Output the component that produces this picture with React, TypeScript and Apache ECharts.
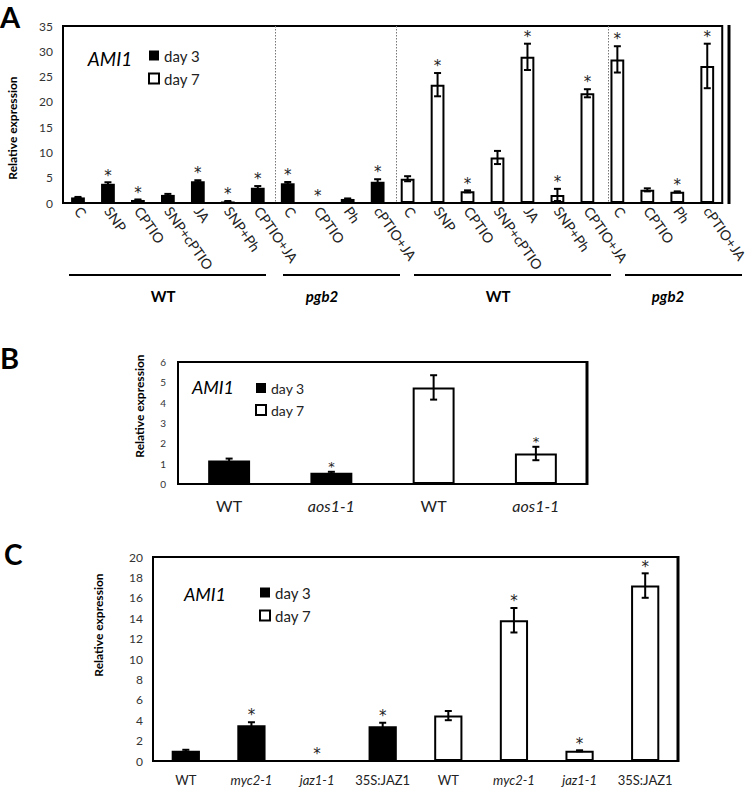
import React, { useEffect, useRef } from 'react';
import * as echarts from 'echarts';

const FONT = 'Lato, "Open Sans", sans-serif';

// ---------- Panel A ----------
const catsA = ['C', 'SNP', 'CPTIO', 'SNP+cPTIO', 'JA', 'SNP+Ph', 'CPTIO+JA', 'C', 'CPTIO', 'Ph', 'cPTIO+JA',
  'C', 'SNP', 'CPTIO', 'SNP+cPTIO', 'JA', 'SNP+Ph', 'CPTIO+JA', 'C', 'CPTIO', 'Ph', 'cPTIO+JA'];
const aDay3 = [1.1, 3.8, 0.6, 1.6, 4.3, 0.3, 3.0, 3.9, 0, 0.8, 4.2];
const aDay3Err = [0.1, 0.3, 0.1, 0.2, 0.2, 0.1, 0.35, 0.25, 0, 0.1, 0.5];
const aDay3Sig = [0, 1, 1, 0, 1, 1, 1, 1, 1, 0, 1];
const aDay7 = [4.8, 23.4, 2.3, 9.0, 28.9, 1.6, 21.7, 28.4, 2.6, 2.2, 27.1];
const aDay7Err = [0.5, 2.3, 0.2, 1.3, 2.6, 1.2, 0.8, 2.6, 0.3, 0.1, 4.4];
const aDay7Sig = [0, 1, 1, 0, 1, 1, 1, 1, 0, 1, 1];
const aGroups = ['WT', 'pgb2', 'WT', 'pgb2'];

// ---------- Panel B ----------
const catsB = ['WT', 'aos1-1', 'WT', 'aos1-1'];
const bDay3 = [1.15, 0.55];
const bDay3Err = [0.1, 0.05];
const bDay3Sig = [0, 1];
const bDay7 = [4.75, 1.5];
const bDay7Err = [0.6, 0.33];
const bDay7Sig = [0, 1];

// ---------- Panel C ----------
const catsC = ['WT', 'myc2-1', 'jaz1-1', '35S:JAZ1', 'WT', 'myc2-1', 'jaz1-1', '35S:JAZ1'];
const cDay3 = [1.0, 3.5, 0, 3.4];
const cDay3Err = [0.1, 0.3, 0, 0.35];
const cDay3Sig = [0, 1, 1, 1];
const cDay7 = [4.45, 13.8, 1.0, 17.2];
const cDay7Err = [0.45, 1.2, 0.05, 1.2];
const cDay7Sig = [0, 1, 1, 1];

const italicNames = ['aos1-1', 'myc2-1', 'jaz1-1', 'pgb2'];
const legendNames = ['day 3', 'day 7'];
const geneName = 'AMI1';
const yName = 'Relative expression';

// layout
const GA = { left: 63, top: 26, width: 666, height: 177 };
const GB = { left: 178, top: 362, width: 409, height: 122 };
const GC = { left: 153, top: 557, width: 525, height: 204 };

function panelSeries(idx: number, d3: number[], e3: number[], s3: number[], d7: number[], e7: number[], s7: number[],
  barWidth: string, starSize: number, capHalf: number) {
  const n3 = d3.length;
  const bar3 = [...d3, ...d7.map(() => null)];
  const bar7 = [...d3.map(() => null), ...d7];
  const errData: number[][] = [];
  d3.forEach((v, i) => { if (e3[i] > 0) errData.push([i, v - e3[i], v + e3[i]]); });
  d7.forEach((v, i) => { if (e7[i] > 0) errData.push([n3 + i, v - e7[i], v + e7[i]]); });
  const stars: number[][] = [];
  d3.forEach((v, i) => { if (s3[i]) stars.push([i, v + e3[i]]); });
  d7.forEach((v, i) => { if (s7[i]) stars.push([n3 + i, v + e7[i]]); });
  return [
    {
      type: 'bar', name: 'day 3', xAxisIndex: idx, yAxisIndex: idx, data: bar3, barWidth, barGap: '-100%',
      itemStyle: { color: '#000' }, z: 2,
    },
    {
      type: 'bar', name: 'day 7', xAxisIndex: idx, yAxisIndex: idx, data: bar7, barWidth, barGap: '-100%',
      itemStyle: { color: '#fff', borderColor: '#000', borderWidth: 2 }, z: 2,
    },
    {
      type: 'custom', xAxisIndex: idx, yAxisIndex: idx, data: errData, z: 5,
      encode: { x: 0, y: [1, 2] },
      renderItem: (params: any, api: any) => {
        const x = api.value(0);
        const hi = api.coord([x, api.value(2)]);
        const lo = api.coord([x, api.value(1)]);
        const st = { stroke: '#000', lineWidth: 2 };
        return {
          type: 'group',
          children: [
            { type: 'line', shape: { x1: hi[0], y1: hi[1], x2: lo[0], y2: lo[1] }, style: st },
            { type: 'line', shape: { x1: hi[0] - capHalf, y1: hi[1], x2: hi[0] + capHalf, y2: hi[1] }, style: st },
            { type: 'line', shape: { x1: lo[0] - capHalf, y1: lo[1], x2: lo[0] + capHalf, y2: lo[1] }, style: st },
          ],
        };
      },
    },
    {
      type: 'scatter', xAxisIndex: idx, yAxisIndex: idx, data: stars, symbol: 'circle', symbolSize: 0.5, z: 6,
      color: '#222',
      itemStyle: { color: '#222', opacity: 0 },
      label: {
        show: true, formatter: '*', position: 'top', distance: -1, fontSize: starSize, lineHeight: starSize,
        color: '#222', opacity: 1, fontFamily: '"DejaVu Sans", sans-serif',
      },
    },
  ];
}

const richItalic = (size: number) => ({
  i: { fontStyle: 'italic', fontSize: size, fontFamily: FONT, color: '#222' },
  n: { fontSize: size, fontFamily: FONT, color: '#222' },
});
const catFormatter = (v: string) => (italicNames.includes(v) ? `{i|${v}}` : `{n|${v}}`);

export default function App() {
  const ref = useRef<HTMLDivElement>(null);
  useEffect(() => {
    if (!ref.current) return;
    const chart = echarts.init(ref.current, null, { renderer: 'svg' });

    const colA = GA.width / catsA.length;
    const sepIdx = [7, 11, 18];
    const groupSpans = [[69, 266], [283, 400], [414, 611], [625, 742]];
    const groupCenters = [163, 322, 498, 668];

    const txt = (x: number, y: number, text: string, extra: any, rotation = 0) => ({
      type: 'text', x, y, rotation,
      style: { text, fontFamily: FONT, fill: '#000', align: 'center', verticalAlign: 'middle', ...extra },
    });

    const graphic: any[] = [
      // panel letters
      txt(0, 16, 'A', { fontSize: 29, fontWeight: 'bold', align: 'left' }),
      txt(0, 357, 'B', { fontSize: 29, fontWeight: 'bold', align: 'left' }),
      txt(4, 554, 'C', { fontSize: 28, fontWeight: 'bold', align: 'left' }),
      // gene names
      txt(110, 58, geneName, { fontSize: 19, fontStyle: 'italic' }),
      txt(213, 387, geneName, { fontSize: 18, fontStyle: 'italic' }),
      txt(205, 594, geneName, { fontSize: 18, fontStyle: 'italic' }),
      // y names
      txt(12, 128, yName, { fontSize: 12, fontWeight: 'bold' }, Math.PI / 2),
      txt(139, 406, yName, { fontSize: 12, fontWeight: 'bold' }, Math.PI / 2),
      txt(98, 625, yName, { fontSize: 12, fontWeight: 'bold' }, Math.PI / 2),
    ];
    // thicker right borders
    [GA, GB, GC].forEach((g) => {
      const x = g.left + g.width;
      graphic.push({ type: 'line', shape: { x1: x, y1: g.top - 1, x2: x, y2: g.top + g.height + 1 }, style: { stroke: '#000', lineWidth: 3 }, z: 10 });
    });
    sepIdx.forEach((k) => {
      const x = Math.round(GA.left + colA * k) + 0.5;
      graphic.push({ type: 'line', shape: { x1: x, y1: GA.top, x2: x, y2: GA.top + GA.height }, style: { stroke: '#777', lineWidth: 1, lineDash: [1.5, 1.5] }, z: 1 });
    });
    groupSpans.forEach((s) => {
      graphic.push({ type: 'line', shape: { x1: s[0], y1: 275, x2: s[1], y2: 275 }, style: { stroke: '#000', lineWidth: 2 } });
    });
    aGroups.forEach((g, i) => {
      graphic.push(txt(groupCenters[i], 296, g, { fontSize: 15, fontWeight: 'bold', fontStyle: italicNames.includes(g) ? 'italic' : 'normal' }));
    });

    const mkLegend = (left: number, top: number, size: number) => ({
      data: legendNames, left, top, orient: 'vertical', icon: 'rect', itemWidth: 10, itemHeight: 10, itemGap: 8,
      textStyle: { fontSize: size, fontFamily: FONT, color: '#222' }, selectedMode: false,
    });

    const yAxisBase = (gridIndex: number, max: number, interval: number, size: number, margin: number) => ({
      type: 'value', gridIndex, min: 0, max, interval,
      axisLine: { show: true, lineStyle: { color: '#000', width: 2 } },
      axisTick: { show: false }, splitLine: { show: false },
      axisLabel: { fontSize: size, color: '#333', fontFamily: FONT, margin },
    });

    const option: any = {
      animation: false,
      backgroundColor: '#fff',
      grid: [
        { ...GA, show: true, borderColor: '#000', borderWidth: 2 },
        { ...GB, show: true, borderColor: '#000', borderWidth: 2 },
        { ...GC, show: true, borderColor: '#000', borderWidth: 2 },
      ],
      legend: [mkLegend(143, 43, 15), mkLegend(250, 376, 14), mkLegend(254, 580, 15)],
      xAxis: [
        {
          type: 'category', gridIndex: 0, data: catsA,
          axisLine: { lineStyle: { color: '#000', width: 2 } }, axisTick: { show: false },
          axisLabel: { interval: 0, rotate: -55, fontSize: 14, color: '#222', fontFamily: FONT, margin: 5 },
        },
        {
          type: 'category', gridIndex: 1, data: catsB,
          axisLine: { lineStyle: { color: '#000', width: 2 } }, axisTick: { show: false },
          axisLabel: { interval: 0, margin: 13, formatter: catFormatter, rich: richItalic(16) },
        },
        {
          type: 'category', gridIndex: 2, data: catsC,
          axisLine: { lineStyle: { color: '#000', width: 2 } }, axisTick: { show: false },
          axisLabel: { interval: 0, margin: 12, formatter: catFormatter, rich: richItalic(13) },
        },
      ],
      yAxis: [
        yAxisBase(0, 35, 5, 12, 10),
        yAxisBase(1, 6, 1, 10, 12),
        yAxisBase(2, 20, 2, 12, 10),
      ],
      series: [
        ...panelSeries(0, aDay3, aDay3Err, aDay3Sig, aDay7, aDay7Err, aDay7Sig, '46%', 15, 3.5),
        ...panelSeries(1, bDay3, bDay3Err, bDay3Sig, bDay7, bDay7Err, bDay7Sig, '41%', 13, 3.5),
        ...panelSeries(2, cDay3, cDay3Err, cDay3Sig, cDay7, cDay7Err, cDay7Sig, '43%', 15, 3.5),
      ],
      graphic,
    };
    chart.setOption(option);
    return () => chart.dispose();
  }, []);
  return <div ref={ref} style={{ position: 'absolute', left: 0, top: 0, width: 750, height: 791 }} />;
}
